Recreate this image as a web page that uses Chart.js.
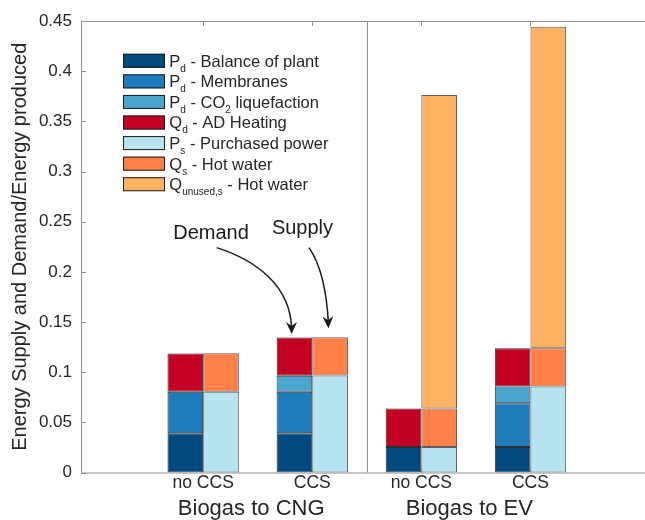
<!DOCTYPE html>
<html><head><meta charset="utf-8">
<script src="https://cdn.jsdelivr.net/npm/chart.js@4.4.1/dist/chart.umd.min.js"></script>
<style>html,body{margin:0;padding:0;background:#fff;overflow:hidden;}canvas{display:block;}</style>
</head><body>
<canvas id="c" width="645" height="520"></canvas>
<script>
// ---- data ----
const categories = ['no CCS', 'CCS', 'no CCS', 'CCS'];
const categoryPos = [1, 2, 3, 4];
const groups = ['Biogas to CNG', 'Biogas to EV'];
const groupPos = [1.44, 3.44];
const separatorPos = [2.5];
const yTicks = [0, 0.05, 0.1, 0.15, 0.2, 0.25, 0.3, 0.35, 0.4, 0.45];
const yTickLabels = ['0', '0.05', '0.1', '0.15', '0.2', '0.25', '0.3', '0.35', '0.4', '0.45'];

// Demand
const balanceOfPlant = [0.0390, 0.0390, 0.0253, 0.0253];
const membranes = [0.0414, 0.0414, null, 0.0437];
const co2Liquefaction = [null, 0.0160, null, 0.0166];
const adHeating = [0.0383, 0.0382, 0.0384, 0.0382];
// Supply
const purchasedPower = [0.0806, 0.0966, 0.0253, 0.0856];
const hotWater = [0.0383, 0.0382, 0.0384, 0.0382];
const unusedHotWater = [null, null, 0.3126, 0.3204];

const legendLabels = [
  'P_d - Balance of plant',
  'P_d - Membranes',
  'P_d - CO_2 liquefaction',
  'Q_d - AD Heating',
  'P_s - Purchased power',
  'Q_s - Hot water',
  'Q_{unused,s} - Hot water'
];
const colors = ['#004a80', '#1e7bbc', '#49a7cf', '#c30023', '#b6e4f0', '#ff8048', '#ffb262'];

const annotations = [
  {text: 'Demand', at: [1.0715, 0.2387], path: [[1.1238, 0.2241], [1.4748, 0.2118], [1.8048, 0.1869], [1.8112, 0.1380]]},
  {text: 'Supply', at: [1.910, 0.2437], path: [[1.9699, 0.2241], [2.0734, 0.2079], [2.1330, 0.1811], [2.1482, 0.1437]]}
];

const FONT = "'Liberation Sans', Arial, Helvetica, sans-serif";
const TXT = '#262626';
const AXC = '#8f8f8f';
Chart.defaults.font.family = FONT;
Chart.defaults.color = TXT;

const series = [
  [balanceOfPlant, 'demand'], [membranes, 'demand'], [co2Liquefaction, 'demand'], [adHeating, 'demand'],
  [purchasedPower, 'supply'], [hotWater, 'supply'], [unusedHotWater, 'supply']
];

function parseSub(s) {
  const parts = []; let cur = '';
  for (let i = 0; i < s.length; i++) {
    if (s[i] === '_') {
      if (cur) { parts.push({t: cur, sub: false}); cur = ''; }
      if (s[i + 1] === '{') {
        const j = s.indexOf('}', i);
        parts.push({t: s.slice(i + 2, j), sub: true}); i = j;
      } else { parts.push({t: s[i + 1], sub: true}); i++; }
    } else cur += s[i];
  }
  if (cur) parts.push({t: cur, sub: false});
  return parts;
}

const datasets = series.map(([vals, stack], i) => ({
  label: parseSub(legendLabels[i]).map(p => p.t).join(''),
  data: vals.map((v, k) => ({x: categoryPos[k], y: v})),
  backgroundColor: colors[i],
  borderColor: stack === 'demand' ? '#2e2e2e' : '#5e5e5e',
  borderWidth: 1,
  borderSkipped: false,
  stack: stack,
  categoryPercentage: 0.654,
  barPercentage: 1.0
}));

const framePlugin = {
  id: 'frame',
  afterDatasetsDraw(chart) {
    const {ctx, chartArea: a, scales} = chart;
    const x = scales.x, y = scales.y;
    ctx.save();
    ctx.strokeStyle = AXC; ctx.lineWidth = 1;
    ctx.beginPath();
    ctx.moveTo(a.left + 0.5, a.bottom); ctx.lineTo(a.left + 0.5, a.top + 0.5); ctx.lineTo(a.right, a.top + 0.5);
    ctx.moveTo(a.left, a.bottom + 0.5); ctx.lineTo(a.right, a.bottom + 0.5);
    separatorPos.forEach(v => {
      const px = Math.round(x.getPixelForValue(v)) + 0.5;
      ctx.moveTo(px, a.top); ctx.lineTo(px, a.bottom);
    });
    yTicks.forEach(v => {
      const py = Math.round(y.getPixelForValue(v)) + 0.5;
      ctx.moveTo(a.left, py); ctx.lineTo(a.left + 5, py);
    });
    categoryPos.forEach(v => {
      const px = Math.round(x.getPixelForValue(v)) + 0.5;
      ctx.moveTo(px, a.top); ctx.lineTo(px, a.top + 5);
      ctx.moveTo(px, a.bottom); ctx.lineTo(px, a.bottom - 5);
    });
    ctx.stroke();
    ctx.restore();
  },
  afterDraw(chart) {
    const {ctx, chartArea: a, scales} = chart;
    const x = scales.x, y = scales.y;
    ctx.save();
    // legend
    const rowH = 20.57;
    chart.data.datasets.forEach((ds, i) => {
      const cy = a.top + 39.8 + i * rowH;
      ctx.fillStyle = ds.backgroundColor;
      ctx.fillRect(a.left + 42, cy - 7, 42, 14);
      ctx.strokeStyle = '#1e1e1e'; ctx.lineWidth = 1;
      ctx.strokeRect(a.left + 42.5, cy - 6.5, 41, 13);
      let tx = a.left + 88.3;
      const base = cy + 5.9;
      ctx.fillStyle = TXT; ctx.textAlign = 'left'; ctx.textBaseline = 'alphabetic';
      parseSub(legendLabels[i]).forEach(p => {
        if (p.sub) {
          ctx.font = '10px ' + FONT;
          ctx.fillText(p.t, tx, base + 5);
        } else {
          ctx.font = '16.5px ' + FONT;
          ctx.fillText(p.t, tx, base);
        }
        tx += ctx.measureText(p.t).width;
      });
    });
    // annotations
    annotations.forEach(an => {
      ctx.fillStyle = '#1a1a1a';
      ctx.font = '20px ' + FONT;
      ctx.textAlign = 'center'; ctx.textBaseline = 'middle';
      ctx.fillText(an.text, x.getPixelForValue(an.at[0]), y.getPixelForValue(an.at[1]));
      const P = an.path.map(p => [x.getPixelForValue(p[0]), y.getPixelForValue(p[1])]);
      ctx.strokeStyle = '#1a1a1a'; ctx.lineWidth = 1.5;
      ctx.beginPath();
      ctx.moveTo(P[0][0], P[0][1]);
      ctx.bezierCurveTo(P[1][0], P[1][1], P[2][0], P[2][1], P[3][0] , P[3][1] - 4);
      ctx.stroke();
      let dx = P[3][0] - P[2][0], dy = P[3][1] - P[2][1];
      const L = Math.hypot(dx, dy); dx /= L; dy /= L;
      const nx = -dy, ny = dx;
      const tip = P[3];
      const bx = tip[0] - dx * 12, by = tip[1] - dy * 12;
      const mx = tip[0] - dx * 8, my = tip[1] - dy * 8;
      ctx.beginPath();
      ctx.moveTo(tip[0], tip[1]);
      ctx.lineTo(bx + nx * 5.5, by + ny * 5.5);
      ctx.lineTo(mx, my);
      ctx.lineTo(bx - nx * 5.5, by - ny * 5.5);
      ctx.closePath();
      ctx.fill();
    });
    ctx.restore();
  }
};

new Chart(document.getElementById('c'), {
  type: 'bar',
  data: {datasets},
  options: {
    responsive: false,
    animation: false,
    devicePixelRatio: 1,
    layout: {padding: {top: 21, left: 0, right: 0, bottom: 0}},
    plugins: {legend: {display: false}, tooltip: {enabled: false}},
    scales: {
      x: {
        type: 'linear', position: 'bottom', min: -0.12, max: 5.05, offset: false, stacked: true,
        bounds: 'data', weight: 0,
        grid: {display: false, drawTicks: false}, border: {display: false},
        ticks: {font: {size: 17.5}, color: TXT, padding: 0, maxRotation: 0, autoSkip: false,
          callback: (v) => categories[categoryPos.indexOf(v)]},
        afterBuildTicks: s => { s.ticks = categoryPos.map(v => ({value: v})); },
        afterFit: s => { s.height = 20; }
      },
      x2: {
        type: 'linear', position: 'bottom', min: -0.12, max: 5.05, offset: false,
        bounds: 'data', weight: 1,
        grid: {display: false, drawTicks: false}, border: {display: false},
        ticks: {font: {size: 22}, color: TXT, padding: 3, maxRotation: 0, autoSkip: false,
          callback: (v) => groups[groupPos.indexOf(v)]},
        afterBuildTicks: s => { s.ticks = groupPos.map(v => ({value: v})); },
        afterFit: s => { s.height = 27.5; }
      },
      y: {
        type: 'linear', stacked: true, min: 0, max: 0.45,
        grid: {display: false, drawTicks: false}, border: {display: false},
        ticks: {font: {size: 17}, color: TXT, padding: 9,
          callback: (v) => yTickLabels[yTicks.indexOf(v)]},
        afterBuildTicks: s => { s.ticks = yTicks.map(v => ({value: v})); },
        afterFit: s => { s.width = 81; },
        title: {display: true, text: 'Energy Supply and Demand/Energy produced', font: {size: 20}, color: TXT,
          padding: {top: 8, bottom: 0}}
      }
    }
  },
  plugins: [framePlugin]
});
</script>
</body></html>
